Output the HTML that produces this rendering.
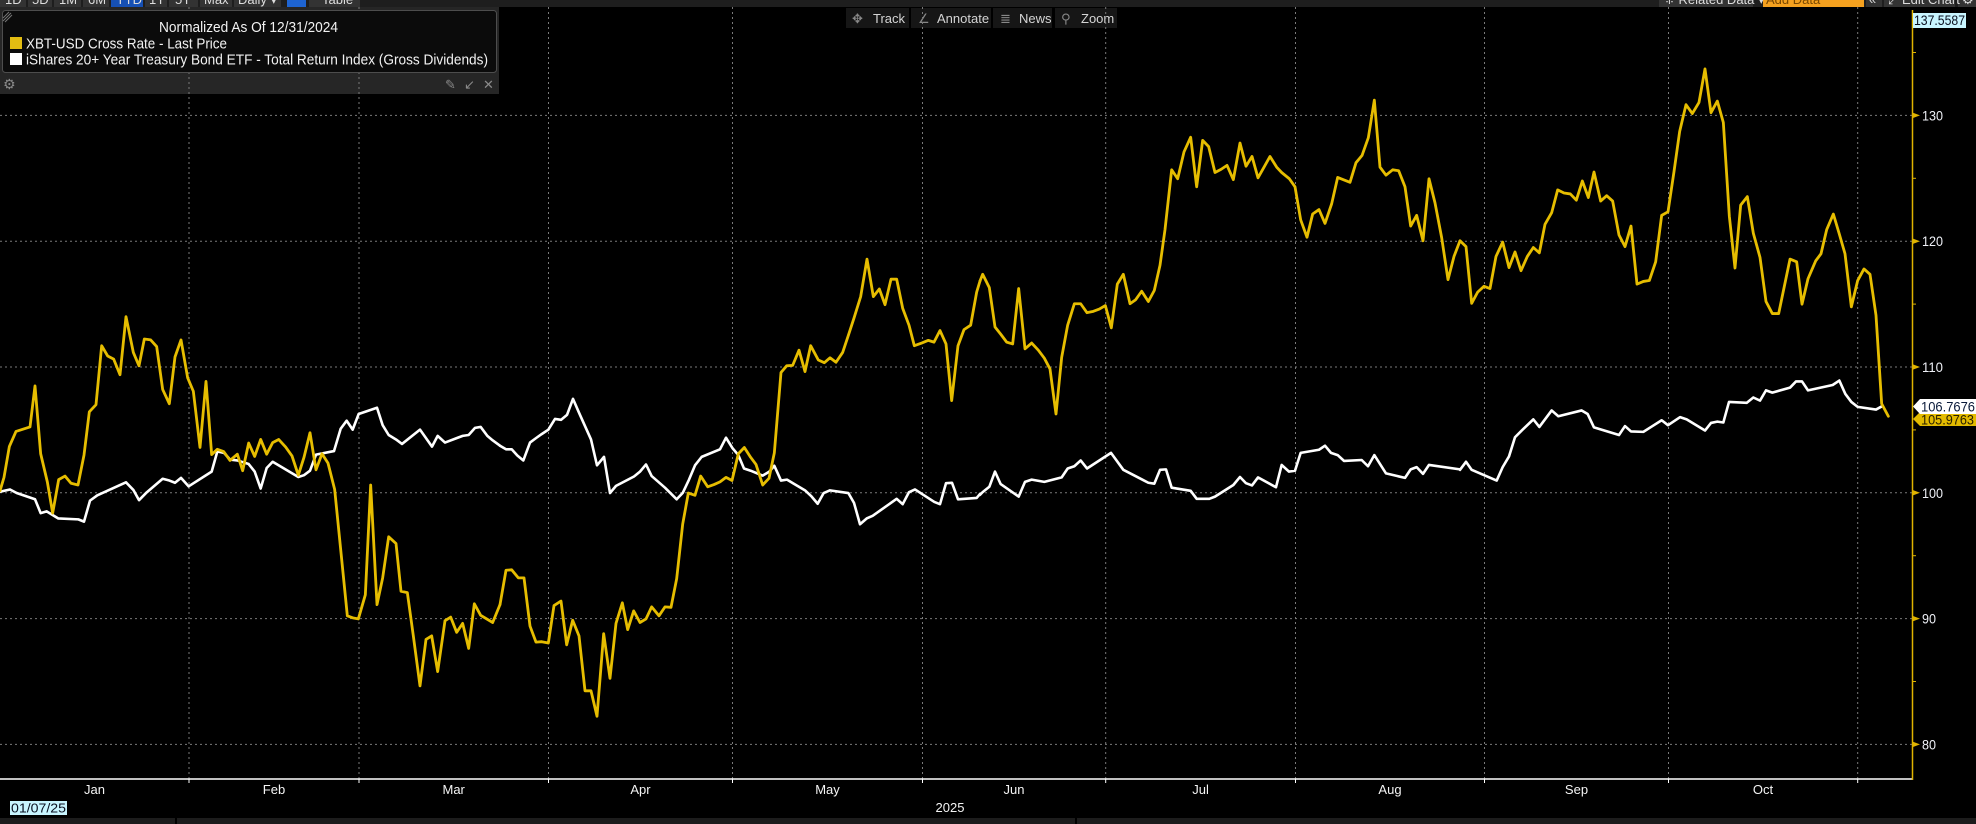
<!DOCTYPE html>
<html><head><meta charset="utf-8"><style>
html,body{margin:0;padding:0;background:#000;}
svg{display:block;}
text{font-family:"Liberation Sans","DejaVu Sans",sans-serif;}
</style></head><body>
<svg width="1976" height="824" viewBox="0 0 1976 824" xmlns="http://www.w3.org/2000/svg">
<rect x="0" y="0" width="1976" height="824" fill="#000"/>

<!-- top toolbar -->
<rect x="0" y="0" width="1976" height="7" fill="#1e1e1e"/>
<g fill="#333">
<rect x="0" y="0" width="26" height="7"/><rect x="28" y="0" width="24" height="7"/><rect x="54" y="0" width="27" height="7"/>
<rect x="83" y="0" width="26" height="7"/><rect x="111" y="0" width="32" height="7" fill="#1650b4"/><rect x="145" y="0" width="22" height="7"/>
<rect x="169" y="0" width="29" height="7"/><rect x="200" y="0" width="32" height="7"/><rect x="234" y="0" width="47" height="7"/>
<rect x="287" y="0" width="19" height="7" fill="#1e64d2"/><rect x="309" y="0" width="51" height="7"/>
<rect x="1659" y="0" width="94" height="7"/><rect x="1763" y="0" width="101" height="7" fill="#f5a11f"/>
<rect x="1866" y="0" width="16" height="7"/><rect x="1884" y="0" width="71" height="7"/><rect x="1958" y="0" width="18" height="7"/>
</g>
<g font-size="13" fill="#ddd">
<text x="5" y="4">1D</text><text x="32" y="4">5D</text><text x="59" y="4">1M</text><text x="88" y="4">6M</text>
<text x="116" y="4">YTD</text><text x="149" y="4">1Y</text><text x="175" y="4">5Y</text><text x="204" y="4">Max</text>
<text x="238" y="4">Daily ▾</text><text x="322" y="4">Table</text>
<text x="1664" y="4">⁜ Related Data ▾</text><text x="1766" y="4" fill="#7a4800">Add Data</text>
<text x="1869" y="4">«</text><text x="1888" y="4">⤢ Edit Chart</text><text x="1962" y="4">⚙</text>
</g>

<!-- track toolbar -->
<g fill="#161616">
<rect x="846" y="8" width="63" height="20"/><rect x="911" y="8" width="80" height="20"/>
<rect x="993" y="8" width="59" height="20"/><rect x="1055" y="8" width="62" height="20"/>
</g>
<g font-size="13" fill="#d4d4d4">
<text x="852" y="23" fill="#888">✥</text><text x="873" y="23">Track</text>
<text x="918" y="23" fill="#888">∠</text><text x="937" y="23">Annotate</text>
<text x="1000" y="23" fill="#888">≣</text><text x="1019" y="23">News</text>
<text x="1061" y="23" fill="#888">⚲</text><text x="1081" y="23">Zoom</text>
</g>

<!-- legend panel (outer + strip) -->
<rect x="0" y="7" width="499" height="87" fill="#262626"/>

<!-- gridlines -->
<g stroke="#7a7a7a" stroke-width="1" stroke-dasharray="2,3" fill="none">
<line x1="0" y1="115.4" x2="1912" y2="115.4"/>
<line x1="0" y1="241.2" x2="1912" y2="241.2"/>
<line x1="0" y1="367" x2="1912" y2="367"/>
<line x1="0" y1="492.8" x2="1912" y2="492.8"/>
<line x1="0" y1="618.6" x2="1912" y2="618.6"/>
<line x1="0" y1="744.4" x2="1912" y2="744.4"/>
<line x1="189" y1="7" x2="189" y2="779"/>
<line x1="359" y1="7" x2="359" y2="779"/>
<line x1="548.5" y1="7" x2="548.5" y2="779"/>
<line x1="732.5" y1="7" x2="732.5" y2="779"/>
<line x1="922.5" y1="7" x2="922.5" y2="779"/>
<line x1="1105.7" y1="7" x2="1105.7" y2="779"/>
<line x1="1295.5" y1="7" x2="1295.5" y2="779"/>
<line x1="1484.5" y1="7" x2="1484.5" y2="779"/>
<line x1="1668.5" y1="7" x2="1668.5" y2="779"/>
<line x1="1857.7" y1="7" x2="1857.7" y2="779"/>
</g>

<!-- legend inner box -->
<rect x="2.5" y="10.5" width="494" height="62" rx="3" fill="#0b0b0b" stroke="#4d4d4d" stroke-width="1"/>
<g stroke="#777" stroke-width="1"><line x1="3" y1="18" x2="9" y2="12"/><line x1="3" y1="21" x2="11" y2="13"/><line x1="5" y1="22" x2="12" y2="15"/></g>
<text x="159" y="32" font-size="15" fill="#f2f2f2" textLength="179" lengthAdjust="spacingAndGlyphs">Normalized As Of 12/31/2024</text>
<rect x="10" y="37" width="12" height="12" fill="#e3bd12"/>
<text x="26" y="48.5" font-size="15" fill="#f2f2f2" textLength="201" lengthAdjust="spacingAndGlyphs">XBT-USD Cross Rate - Last Price</text>
<rect x="10" y="53" width="12" height="12" fill="#ffffff"/>
<text x="26" y="64.5" font-size="15" fill="#f2f2f2" textLength="462" lengthAdjust="spacingAndGlyphs">iShares 20+ Year Treasury Bond ETF - Total Return Index (Gross Dividends)</text>
<text x="3" y="89" font-size="14" fill="#8a8a8a">⚙</text>
<text x="445" y="89" font-size="13" fill="#8a8a8a">✎</text>
<text x="464" y="89" font-size="13" fill="#8a8a8a">↙</text>
<text x="483" y="89" font-size="13" fill="#8a8a8a">✕</text>

<!-- series: white (bond) -->
<g fill="none" stroke="#ffffff" stroke-width="2.6" stroke-linejoin="round" stroke-linecap="round">
<polyline vector-effect="non-scaling-stroke" transform="translate(0,60) scale(0.333333,0.446429)" points="0,967 30,962 50,970 105,984 122,1015 140,1011 175,1027 235,1029 252,1034 270,987 292,975 378,946 400,963 417,986 438,970 488,938 508,942 525,947 543,936 566,955 635,922 652,877 672,880 690,895 712,897 746,905 764,922 782,960 800,914 818,900 895,934 912,930 930,920 948,884 1002,876 1022,826 1040,808 1058,828 1076,793 1131,779 1148,818 1166,840 1188,850 1206,860 1260,828 1296,866 1313,842 1335,857 1370,847 1388,842 1406,840 1425,824 1442,822 1462,842 1478,852 1500,864"/>
<polyline vector-effect="non-scaling-stroke" transform="translate(480,60) scale(0.333333,0.446429)" points="60,864 78,872 95,872 112,886 130,897 150,857 168,847 185,838 205,828 225,804 243,806 261,795 279,759 297,790 315,820 333,850 351,908 372,889 390,970 408,954 462,933 480,922 498,906 515,932 555,958 590,984 608,970 627,940 645,908 665,889 720,872 738,846 758,870 775,885 792,915 812,920 848,931 868,922 883,909 903,942 921,940 939,948 975,964 995,978 1013,994 1031,970 1050,964 1105,970 1122,992 1140,1040 1160,1027 1178,1021 1250,983 1268,995 1287,968 1305,962 1363,990 1380,995 1398,948 1416,947 1434,984 1490,981 1500,972"/>
<polyline vector-effect="non-scaling-stroke" transform="translate(960,60) scale(0.333333,0.446429)" points="60,974 68,968 88,956 105,922 122,950 176,978 195,945 215,940 253,945 305,935 323,915 343,910 362,897 381,915 453,880 490,918 565,947 583,949 600,918 618,917 635,958 692,965 710,983 748,983 765,978 820,952 840,934 858,948 876,953 894,935 948,957 965,907 987,922 1005,920 1022,880 1077,873 1095,864 1113,880 1133,885 1152,898 1205,896 1224,910 1243,885 1278,926 1335,936 1352,917 1370,912 1389,927 1407,907 1500,917"/>
<polyline vector-effect="non-scaling-stroke" transform="translate(1440,60) scale(0.333333,0.446429)" points="60,918 78,900 95,918 170,942 188,912 207,888 225,845 245,830 280,805 298,822 335,785 355,798 425,785 443,793 462,823 537,840 555,820 573,832 610,833 665,807 684,818 720,800 740,805 795,830 813,813 832,810 850,812 867,766 920,768 940,756 960,763 978,740 997,745 1050,734 1068,720 1086,720 1104,740 1178,728 1198,718 1216,748 1234,766 1253,777 1308,783 1325,776"/>
</g>

<!-- series: yellow (XBT) -->
<g fill="none" stroke="#e6bd00" stroke-width="2.8" stroke-linejoin="round" stroke-linecap="round">
<polyline vector-effect="non-scaling-stroke" transform="translate(0,60) scale(0.333333,0.446429)" points="0,965 12,935 28,866 48,832 90,822 105,730 122,882 142,945 158,1015 176,940 195,932 213,948 234,952 252,885 268,788 288,772 305,640 323,663 341,670 360,705 378,575 400,655 417,685 433,625 452,627 470,642 488,738 508,770 525,665 543,627 563,712 580,742 600,868 618,720 635,884 652,872 671,877 690,897 712,883 728,920 746,858 764,888 782,850 800,883 818,857 836,850 857,867 876,887 895,930 912,890 930,835 948,918 966,882 984,903 1004,962 1042,1245 1060,1250 1075,1252 1096,1198 1112,952 1131,1220 1148,1160 1166,1068 1188,1083 1203,1190 1222,1193 1240,1290 1260,1402 1278,1298 1295,1290 1313,1370 1335,1256 1352,1248 1370,1282 1388,1262 1406,1318 1423,1218 1442,1244 1478,1260 1500,1220"/>
<polyline vector-effect="non-scaling-stroke" transform="translate(480,60) scale(0.333333,0.446429)" points="60,1220 78,1143 95,1142 115,1160 132,1160 150,1268 168,1304 185,1303 205,1306 222,1222 243,1212 260,1310 278,1255 297,1290 315,1413 333,1413 351,1470 371,1285 390,1385 408,1262 427,1216 443,1276 461,1234 480,1260 498,1252 515,1225 537,1245 555,1225 573,1226 590,1162 608,1040 625,970 645,975 662,932 683,956 702,951 720,945 738,935 756,942 775,882 793,868 812,890 828,906 848,952 867,937 883,880 903,700 920,685 938,684 957,650 975,698 992,640 1015,672 1033,678 1050,667 1068,677 1088,655 1105,617 1122,578 1142,530 1161,446 1180,530 1198,513 1215,548 1233,491 1250,491 1268,556 1287,594 1303,640 1325,634 1345,628 1362,632 1380,606 1398,636 1415,763 1434,640 1452,604 1472,594 1490,520 1500,495"/>
<polyline vector-effect="non-scaling-stroke" transform="translate(960,60) scale(0.333333,0.446429)" points="60,495 68,480 88,510 105,598 122,614 140,632 158,636 176,512 195,647 215,634 235,650 253,668 270,692 288,793 305,666 323,594 343,546 362,546 381,566 400,563 418,558 436,550 454,600 472,502 490,480 510,546 527,537 545,518 565,541 583,516 600,460 615,380 635,246 653,266 672,206 692,173 710,284 728,180 746,194 765,252 783,245 801,236 820,268 840,186 858,238 876,216 894,264 912,240 930,216 950,240 965,252 988,266 1005,284 1022,358 1041,397 1058,345 1077,335 1095,366 1115,322 1133,263 1150,268 1170,274 1188,230 1206,214 1225,174 1243,90 1260,240 1278,258 1298,246 1316,248 1335,284 1352,372 1370,348 1389,405 1407,266 1425,320 1445,398 1464,492 1482,440 1500,405"/>
<polyline vector-effect="non-scaling-stroke" transform="translate(1440,60) scale(0.333333,0.446429)" points="60,405 78,418 95,545 113,520 132,507 150,512 168,440 188,408 207,465 225,430 243,472 262,440 280,420 298,432 315,368 335,342 353,291 372,298 391,300 409,314 427,271 445,308 462,251 482,316 500,304 518,316 537,392 555,418 573,372 591,502 610,496 628,494 647,452 665,348 684,340 702,250 719,160 738,100 757,120 777,95 795,20 813,118 832,92 850,140 868,350 885,466 902,325 922,306 940,388 960,442 978,541 997,568 1016,568 1033,507 1050,446 1070,452 1086,547 1104,490 1127,450 1143,434 1160,380 1180,345 1198,390 1215,434 1234,553 1253,494 1272,468 1290,480 1308,572 1325,770 1345,798"/>
</g>

<!-- x axis -->
<line x1="0" y1="779" x2="1913" y2="779" stroke="#fff" stroke-width="1.6"/>
<g stroke="#fff" stroke-width="1">
<line x1="189" y1="779" x2="189" y2="783"/><line x1="359" y1="779" x2="359" y2="783"/><line x1="548.5" y1="779" x2="548.5" y2="783"/>
<line x1="732.5" y1="779" x2="732.5" y2="783"/><line x1="922.5" y1="779" x2="922.5" y2="783"/><line x1="1105.7" y1="779" x2="1105.7" y2="783"/>
<line x1="1295.5" y1="779" x2="1295.5" y2="783"/><line x1="1484.5" y1="779" x2="1484.5" y2="783"/><line x1="1668.5" y1="779" x2="1668.5" y2="783"/>
<line x1="1857.7" y1="779" x2="1857.7" y2="783"/>
</g>
<g font-size="13" fill="#f4f4f4" text-anchor="middle">
<text x="94.5" y="794">Jan</text><text x="274" y="794">Feb</text><text x="453.7" y="794">Mar</text>
<text x="640.5" y="794">Apr</text><text x="827.5" y="794">May</text><text x="1014" y="794">Jun</text>
<text x="1200.6" y="794">Jul</text><text x="1390" y="794">Aug</text><text x="1576.5" y="794">Sep</text>
<text x="1763" y="794">Oct</text>
<text x="950" y="812">2025</text>
</g>
<rect x="10" y="801" width="57" height="14" fill="#c8f5ff"/>
<text x="11" y="812.5" font-size="13" fill="#0a1020" textLength="55" lengthAdjust="spacingAndGlyphs">01/07/25</text>
<rect x="0" y="818" width="1976" height="6" fill="#1c1c1c"/>
<rect x="175" y="818" width="2" height="6" fill="#000"/>
<rect x="1075" y="818" width="2" height="6" fill="#000"/>

<!-- right axis -->
<line x1="1912.5" y1="10" x2="1912.5" y2="780" stroke="#e0b400" stroke-width="1.5"/>
<g fill="#e0b400">
<polygon points="1912,112.4 1920,115.4 1912,118.4"/>
<polygon points="1912,238.2 1920,241.2 1912,244.2"/>
<polygon points="1912,364 1920,367 1912,370"/>
<polygon points="1912,489.8 1920,492.8 1912,495.8"/>
<polygon points="1912,615.6 1920,618.6 1912,621.6"/>
<polygon points="1912,741.4 1920,744.4 1912,747.4"/>
</g>
<g stroke="#e0b400" stroke-width="1">
<line x1="1912" y1="52.5" x2="1916" y2="52.5"/><line x1="1912" y1="178.3" x2="1916" y2="178.3"/>
<line x1="1912" y1="304.1" x2="1916" y2="304.1"/><line x1="1912" y1="429.9" x2="1916" y2="429.9"/>
<line x1="1912" y1="555.7" x2="1916" y2="555.7"/><line x1="1912" y1="681.5" x2="1916" y2="681.5"/>
</g>
<g font-size="14" fill="#eef0f6">
<text x="1922" y="120.4" textLength="21" lengthAdjust="spacingAndGlyphs">130</text>
<text x="1922" y="246.2" textLength="21" lengthAdjust="spacingAndGlyphs">120</text>
<text x="1922" y="372" textLength="21" lengthAdjust="spacingAndGlyphs">110</text>
<text x="1922" y="497.8" textLength="21" lengthAdjust="spacingAndGlyphs">100</text>
<text x="1922" y="623.6" textLength="14" lengthAdjust="spacingAndGlyphs">90</text>
<text x="1922" y="749.4" textLength="14" lengthAdjust="spacingAndGlyphs">80</text>
</g>

<!-- value tags -->
<rect x="1913" y="13" width="53" height="15" fill="#c8f5ff"/>
<text x="1914" y="25" font-size="14" fill="#0a1020" textLength="51" lengthAdjust="spacingAndGlyphs">137.5587</text>
<polygon points="1913,419 1920,412 1976,412 1976,426 1920,426" fill="#e3bb00"/>
<text x="1921" y="424.5" font-size="14" fill="#2a2000" textLength="53" lengthAdjust="spacingAndGlyphs">105.9763</text>
<polygon points="1913,406.5 1920,399 1976,399 1976,414 1920,414" fill="#ffffff"/>
<text x="1921" y="411.5" font-size="14" fill="#0a1a3a" textLength="54" lengthAdjust="spacingAndGlyphs">106.7676</text>
</svg>
</body></html>
